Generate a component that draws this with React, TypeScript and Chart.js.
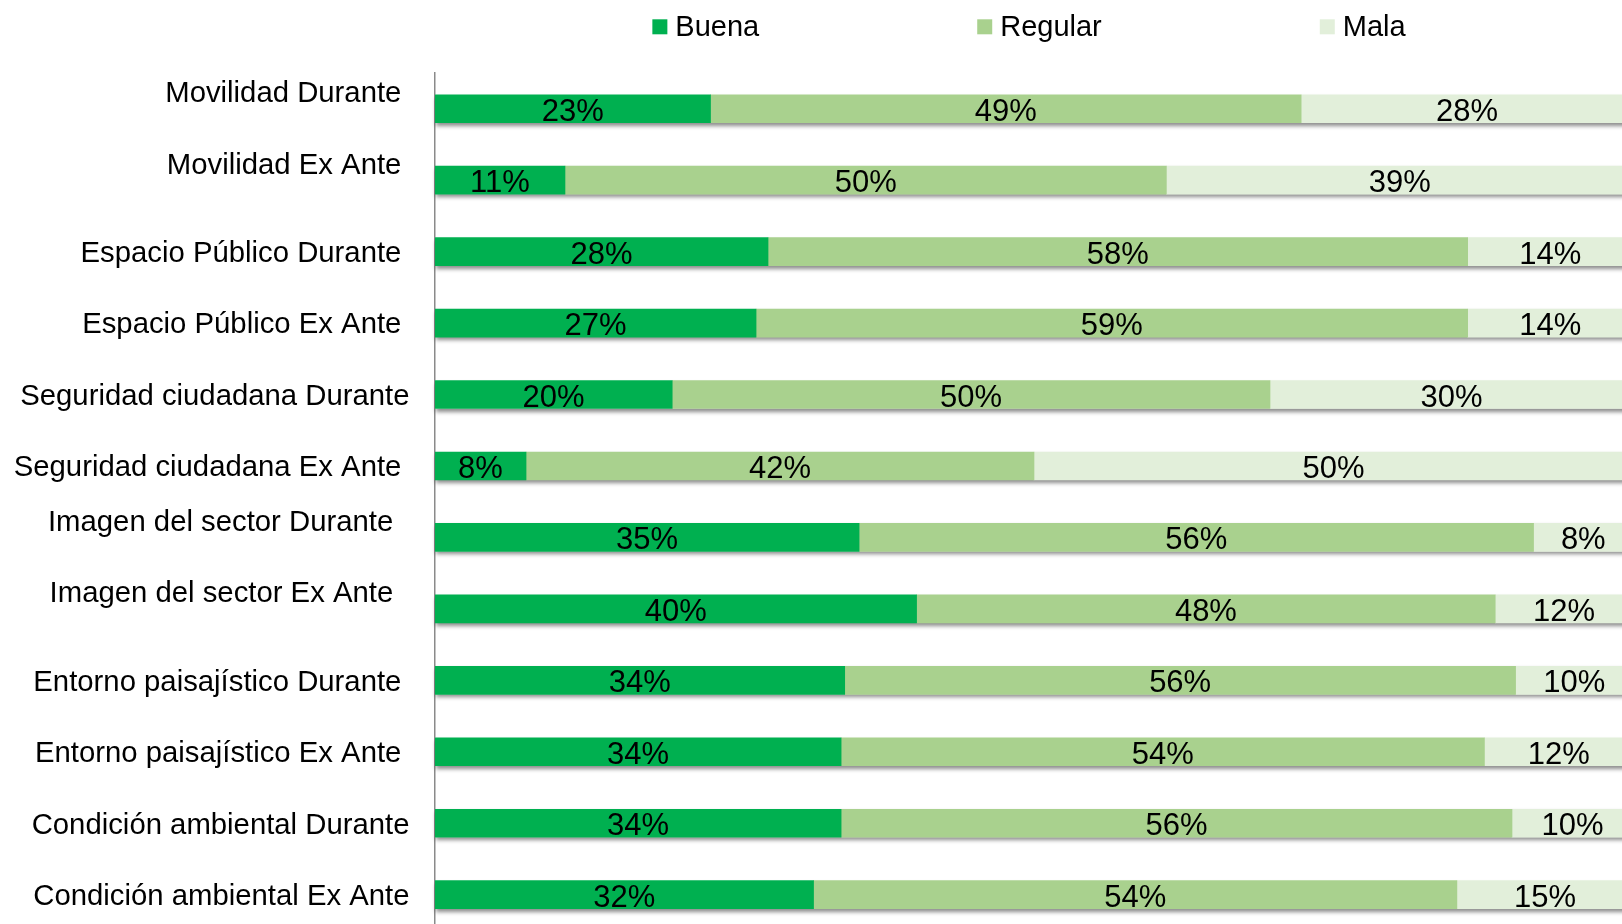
import React, { useEffect, useRef } from "react";
import { Chart, registerables } from "chart.js";

Chart.register(...registerables);

const tickLabels: (string | string[])[] = [
  ["Movilidad Durante ", ""],
  ["Movilidad Ex Ante ", ""],
  "Espacio Público Durante ",
  "Espacio Público Ex Ante ",
  "Seguridad ciudadana Durante",
  "Seguridad ciudadana Ex Ante ",
  ["Imagen del sector Durante  ", ""],
  ["Imagen del sector Ex Ante  ", ""],
  "Entorno paisajístico Durante ",
  "Entorno paisajístico Ex Ante ",
  "Condición ambiental Durante",
  "Condición ambiental Ex Ante",
];

const seriesNames = ["Buena", "Regular", "Mala"];
const seriesColors = ["#00B050", "#A9D18E", "#E2EFDA"];

const buena = [23.0, 10.85, 27.8, 26.8, 19.8, 7.6, 35.4, 40.2, 34.2, 33.9, 33.9, 31.6];
const regular = [49.3, 50.2, 58.4, 59.4, 49.9, 42.4, 56.3, 48.3, 56.0, 53.7, 56.0, 53.7];
const mala = [27.7, 38.95, 13.8, 13.8, 30.3, 50.0, 8.3, 11.5, 9.8, 12.4, 10.1, 14.7];

const FONT = "'Liberation Sans', Arial, sans-serif";
const TICK_SIZE = 29.3;
const TICK_LINE = 34;
const TICK_PAD = 25.5;

const shadowPlugin = {
  id: "barShadow",
  beforeDatasetsDraw(chart: any) {
    const ctx = chart.ctx;
    const meta0 = chart.getDatasetMeta(0);
    const metaLast = chart.getDatasetMeta(chart.data.datasets.length - 1);
    ctx.save();
    ctx.shadowColor = "rgba(0,0,0,0.45)";
    ctx.shadowBlur = 4;
    ctx.shadowOffsetX = 1;
    ctx.shadowOffsetY = 3;
    ctx.fillStyle = "#ffffff";
    meta0.data.forEach((el: any, i: number) => {
      const last = metaLast.data[i];
      const x0 = el.base;
      const x1 = last.x;
      const h = el.height;
      ctx.fillRect(x0, el.y - h / 2, x1 - x0, h);
    });
    ctx.restore();
  },
};

const dataLabelPlugin = {
  id: "segLabels",
  afterDatasetsDraw(chart: any) {
    const ctx = chart.ctx;
    ctx.save();
    ctx.font = `31px ${FONT}`;
    ctx.fillStyle = "#000000";
    ctx.textAlign = "center";
    ctx.textBaseline = "alphabetic";
    chart.data.datasets.forEach((ds: any, di: number) => {
      const meta = chart.getDatasetMeta(di);
      meta.data.forEach((el: any, i: number) => {
        const v = ds.data[i];
        const cx = (el.x + el.base) / 2;
        ctx.fillText(`${Math.round(v)}%`, cx, el.y + 12);
      });
    });
    ctx.restore();
  },
};

const tickLabelPlugin = {
  id: "categoryLabels",
  afterDraw(chart: any) {
    const ctx = chart.ctx;
    const yScale = chart.scales.y;
    ctx.save();
    ctx.font = `${TICK_SIZE}px ${FONT}`;
    ctx.fillStyle = "#000000";
    ctx.textAlign = "right";
    ctx.textBaseline = "alphabetic";
    const x = yScale.right - TICK_PAD;
    (chart.data.labels as any[]).forEach((lab: any, i: number) => {
      const lines: string[] = Array.isArray(lab) ? lab : [lab];
      const y = yScale.getPixelForValue(i);
      const start = y - ((lines.length - 1) * TICK_LINE) / 2;
      lines.forEach((ln, k) => {
        if (ln) ctx.fillText(ln, x, start + k * TICK_LINE + 10.4);
      });
    });
    ctx.restore();
  },
};

const legendPlugin = {
  id: "topLegend",
  afterDraw(chart: any) {
    const ctx = chart.ctx;
    const area = chart.chartArea;
    ctx.save();
    ctx.font = `29px ${FONT}`;
    const box = 15;
    const boxGap = 8;
    const itemGap = 218;
    const widths = seriesNames.map((n) => box + boxGap + ctx.measureText(n).width);
    const total = widths.reduce((a, b) => a + b, 0) + itemGap * (widths.length - 1);
    let x = (area.left + area.right) / 2 - 5 - total / 2;
    seriesNames.forEach((n, i) => {
      ctx.fillStyle = seriesColors[i];
      ctx.fillRect(x, 19.3, box, box);
      ctx.fillStyle = "#000000";
      ctx.textAlign = "left";
      ctx.textBaseline = "alphabetic";
      ctx.fillText(n, x + box + boxGap, 35.7);
      x += widths[i] + itemGap;
    });
    ctx.restore();
  },
};

export default function App() {
  const ref = useRef<HTMLCanvasElement | null>(null);

  useEffect(() => {
    if (!ref.current) return;
    const values = [buena, regular, mala];
    const chart = new Chart(ref.current, {
      type: "bar",
      data: {
        labels: tickLabels as any,
        datasets: seriesNames.map((name, i) => ({
          label: name,
          data: values[i],
          backgroundColor: seriesColors[i],
          borderWidth: 0,
          barThickness: 28,
          stack: "s",
        })),
      },
      options: {
        indexAxis: "y",
        animation: false,
        responsive: false,
        maintainAspectRatio: false,
        layout: { padding: { top: 73, bottom: 9.6, left: 0, right: 17 } },
        plugins: {
          legend: { display: false },
          tooltip: { enabled: false },
        },
        scales: {
          x: {
            stacked: true,
            min: 0,
            max: 100,
            display: false,
          },
          y: {
            stacked: true,
            grid: { display: false, drawTicks: false },
            border: { display: true, color: "#8a8a8a", width: 1.5 },
            ticks: { display: false },
            afterFit: (scale: any) => {
              scale.width = 435;
              scale.paddingTop = 0;
              scale.paddingBottom = 0;
            },
          },
        },
      },
      plugins: [shadowPlugin, dataLabelPlugin, tickLabelPlugin, legendPlugin],
    });
    return () => chart.destroy();
  }, []);

  return (
    <div
      style={{
        position: "fixed",
        left: 0,
        top: 0,
        width: 1622,
        height: 924,
        overflow: "hidden",
        background: "#ffffff",
      }}
    >
      <canvas ref={ref} width={1650} height={940} style={{ display: "block", width: 1650, height: 940 }} />
    </div>
  );
}
